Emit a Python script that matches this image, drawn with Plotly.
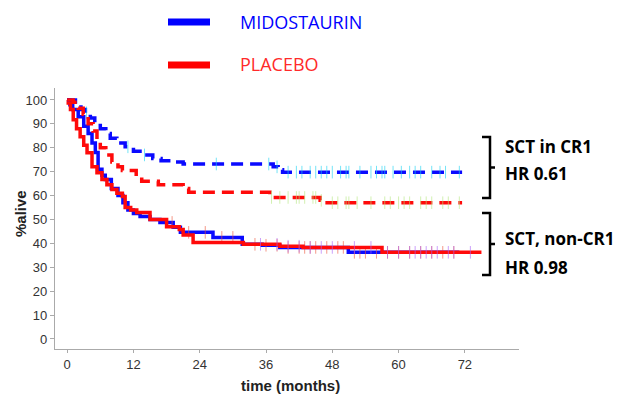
import plotly.graph_objects as go
import numpy as np

# ---- data ----
mido_cr1_t = [0, 1.5, 2.5, 3.3, 4.2, 5.0, 6.0, 7.0, 7.8, 9.0, 10.5, 12.0, 13.8, 15.5, 17.0, 19.0, 21.0, 37.3, 38.2, 39.0, 71.5]
mido_cr1_s = [100, 98, 96, 94.6, 92.5, 90.4, 88, 86, 84, 82, 80.4, 78.5, 77, 75.5, 74.6, 74, 73.2, 72, 70.8, 69.8, 69.8]

plac_cr1_t = [0, 1.1, 2.0, 2.9, 3.8, 4.7, 5.4, 6.0, 7.0, 8.1, 9.2, 10.0, 12.5, 13.5, 16.5, 21.0, 22.0, 36.7, 45.8, 46.5, 71.5]
plac_cr1_s = [100, 99, 96.5, 94, 90, 87, 83, 80, 77, 74, 72, 70.5, 68, 66, 64.5, 63, 61.4, 59.2, 58, 57, 57]

mido_non_t = [0, 0.5, 1.0, 2.0, 3.0, 3.8, 4.5, 5.1, 5.6, 6.3, 6.9, 8.0, 9.2, 10.1, 11.0, 12.0, 13.2, 15.0, 16.8, 19.2, 20.5, 26.4, 31.7, 35.3, 38.5, 50.9, 71.0]
mido_non_s = [100, 98, 96, 93, 89, 86, 82, 78, 71, 68.5, 66.7, 63, 60, 57, 54, 52.5, 51.25, 50, 48.75, 46.7, 44.6, 42.5, 39.6, 39.2, 38.3, 36.25, 36.25]

plac_non_t = [0, 0.2, 0.6, 1.1, 1.7, 2.35, 3.0, 3.6, 4.5, 5.4, 6.3, 7.2, 8.1, 9.0, 10.0, 10.5, 11.5, 12.6, 15.0, 18.0, 20.3, 21.0, 22.8, 31.9, 38.5, 42.7, 57.0, 75.0]
plac_non_s = [100, 98.75, 96, 91.7, 88, 84.6, 81, 77.9, 72, 69.5, 66.7, 64.5, 62.5, 61, 59.6, 55, 54, 52.9, 50, 47, 45.8, 43.5, 40.4, 39.6, 38.8, 38.3, 36.25, 36.25]

# censoring times
mido_cr1_c = [3.5, 11, 14, 27, 36.5, 38, 40, 41.5, 42.5, 44, 45, 46, 47, 48, 49.5, 50.5, 51, 53, 55, 56, 57, 57.5, 59, 60.5, 62, 63, 64, 66, 67.5, 68.5, 71]
plac_cr1_c = [37, 38.5, 40, 41.5, 42, 43, 44.5, 45, 46, 48, 49, 50.5, 51, 52.5, 55, 57.5, 58.5, 60, 61, 62, 64, 65, 66, 68, 69, 71]
mido_non_c = [19, 22, 25, 28, 30, 34, 36, 38, 40, 42, 43, 44, 45, 47, 49, 50, 52, 53, 54, 56, 58, 60, 62, 64, 66, 68, 70]
plac_non_c = [35, 38, 40, 42, 44, 46, 48, 52, 55, 58, 60, 62, 63, 64, 65, 66, 67, 69, 70, 73]

x_ticks = [0, 12, 24, 36, 48, 60, 72]
y_ticks = list(range(0, 101, 10))

BLUE = "#0a0aff"
RED = "#ff0a0a"

# the page shows the figure offset by the 8px body margin, so layout pixels are reference pixels minus 8
OFF = 8
W, H = 628, 395
L, R, T, B = 55 - OFF, 519 - OFF, 88 - OFF, 349 - OFF


def px(x):
    return (x - OFF - L) / (R - L)


def py(y):
    return (B - (y - OFF)) / (B - T)


def step_at(ts, ss, c):
    i = np.searchsorted(np.array(ts), c, side="right") - 1
    return ss[max(i, 0)]


fig = go.Figure()


def add_curve(ts, ss, cs, color, dash):
    fig.add_trace(go.Scatter(x=ts, y=ss, mode="lines", line=dict(color=color, width=3.5, dash=dash, shape="hv"),
                             showlegend=False, hoverinfo="skip"))
    fig.add_trace(go.Scatter(x=cs, y=[step_at(ts, ss, c) for c in cs], mode="markers",
                             marker=dict(symbol="line-ns-open", size=9, line=dict(color=color, width=1)),
                             opacity=0.6, showlegend=False, hoverinfo="skip"))


add_curve(mido_non_t, mido_non_s, mido_non_c, BLUE, "solid")
add_curve(plac_non_t, plac_non_s, plac_non_c, RED, "solid")
add_curve(mido_cr1_t, mido_cr1_s, mido_cr1_c, BLUE, "12px,7px")
add_curve(plac_cr1_t, plac_cr1_s, plac_cr1_c, RED, "12px,7px")

shapes = []
# legend lines
shapes.append(dict(type="line", xref="paper", yref="paper", x0=px(168), x1=px(210), y0=py(22), y1=py(22),
                   line=dict(color="#0000ff", width=7)))
shapes.append(dict(type="line", xref="paper", yref="paper", x0=px(168), x1=px(210), y0=py(65), y1=py(65),
                   line=dict(color="#ff0000", width=7)))


def bracket(top, bot):
    mid = (top + bot) / 2
    xl, xv, xr = px(482), px(490), px(495)
    path = (f"M {xl} {py(top)} L {xv} {py(top)} L {xv} {py(mid)} L {xr} {py(mid)} "
            f"M {xv} {py(mid)} L {xv} {py(bot)} L {xl} {py(bot)}")
    return dict(type="path", xref="paper", yref="paper", path=path, line=dict(color="black", width=2.5))


shapes.append(bracket(137, 198))
shapes.append(bracket(213, 275))


def ann(text, x, y, size, color, xanchor="left", family="Open Sans", angle=0):
    return dict(text=text, x=px(x), y=py(y), xref="paper", yref="paper", xanchor=xanchor, yanchor="middle",
                showarrow=False, textangle=angle, font=dict(family=family, size=size, color=color))


annotations = [
    ann("MIDOSTAURIN", 238, 22, 18, "#0000ff"),
    ann("PLACEBO", 238, 64, 18, "#ff2a2a"),
    ann("<b>SCT in CR1</b>", 503, 146, 17, "black"),
    ann("<b>HR 0.61</b>", 503, 173, 17, "black"),
    ann("<b>SCT, non-CR1</b>", 503, 238, 17, "black"),
    ann("<b>HR 0.98</b>", 503, 267, 17, "black"),
    ann("<b>time (months)</b>", 290, 385, 15, "#222", xanchor="center", family="Liberation Sans"),
    ann("<b>%alive</b>", 20, 214, 15, "#222", xanchor="center", family="Liberation Sans", angle=-90),
]

fig.update_layout(
    width=W, height=H,
    margin=dict(l=L, r=W - R, t=T, b=H - B),
    paper_bgcolor="white", plot_bgcolor="white",
    shapes=shapes, annotations=annotations,
    font=dict(family="Liberation Sans", size=13, color="#333"),
)
fig.update_xaxes(range=[-2.2, 81.8], tickvals=x_ticks, ticks="outside", ticklen=3, tickcolor="#aaa",
                 showline=True, linecolor="#aaa", linewidth=1.2, showgrid=False, zeroline=False,
                 automargin=False, tickfont=dict(size=13, color="#333"))
fig.update_yaxes(range=[-4.2, 105], tickvals=y_ticks, ticks="outside", ticklen=4, tickcolor="#aaa",
                 showline=True, linecolor="#aaa", linewidth=1.2, showgrid=False, zeroline=False,
                 automargin=False, tickfont=dict(size=13, color="#333"))

fig.write_html("out.html")
